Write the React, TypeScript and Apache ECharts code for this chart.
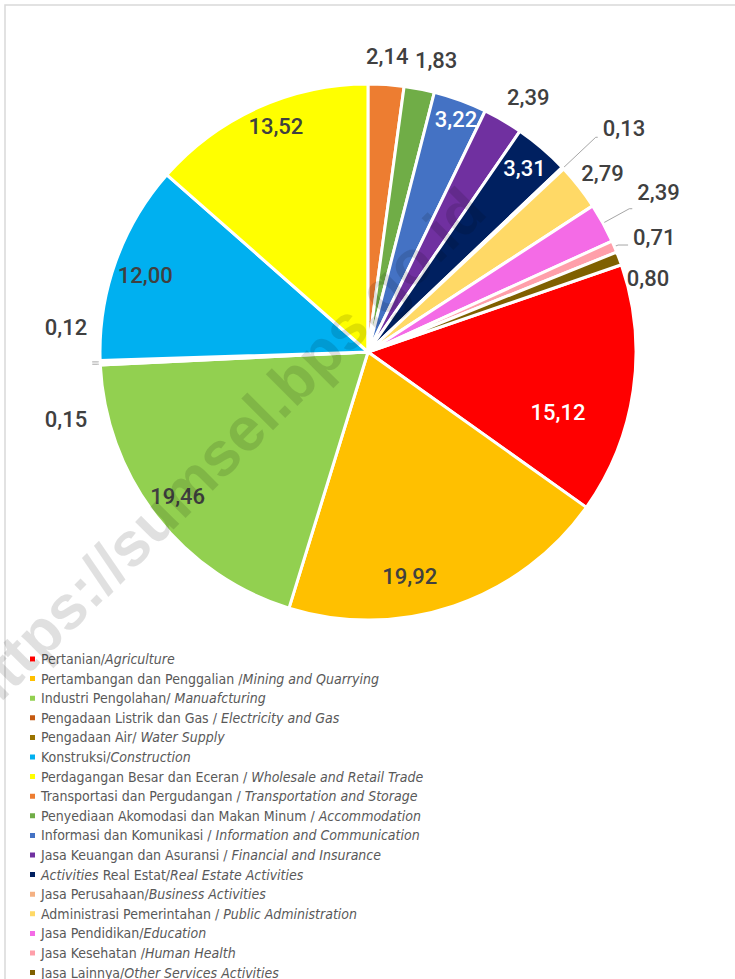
import React, { useEffect, useRef } from "react";
import * as echarts from "echarts";

// ---------- DATA ----------
const sectorNames = [
  "Pertanian",
  "Pertambangan dan Penggalian",
  "Industri Pengolahan",
  "Pengadaan Listrik dan Gas",
  "Pengadaan Air",
  "Konstruksi",
  "Perdagangan Besar dan Eceran",
  "Transportasi dan Pergudangan",
  "Penyediaan Akomodasi dan Makan Minum",
  "Informasi dan Komunikasi",
  "Jasa Keuangan dan Asuransi",
  "Real Estat",
  "Jasa Perusahaan",
  "Administrasi Pemerintahan",
  "Jasa Pendidikan",
  "Jasa Kesehatan",
  "Jasa Lainnya",
];

const sectorValues = [
  15.12, 19.92, 19.46, 0.12, 0.15, 12.0, 13.52, 2.14, 1.83, 3.22, 2.39, 3.31,
  0.13, 2.79, 2.39, 0.71, 0.8,
];

// legend text: [text, italic]
const legendSegments: [string, boolean][][] = [
  [["Pertanian/", false], ["Agriculture", true]],
  [["Pertambangan dan Penggalian /", false], ["Mining and Quarrying", true]],
  [["Industri Pengolahan/ ", false], ["Manuafcturing", true]],
  [["Pengadaan Listrik dan Gas / ", false], ["Electricity and Gas", true]],
  [["Pengadaan Air/ ", false], ["Water Supply", true]],
  [["Konstruksi/", false], ["Construction", true]],
  [["Perdagangan Besar dan Eceran / ", false], ["Wholesale and Retail Trade", true]],
  [["Transportasi dan Pergudangan / ", false], ["Transportation and Storage", true]],
  [["Penyediaan Akomodasi dan Makan Minum / ", false], ["Accommodation", true]],
  [["Informasi dan Komunikasi / ", false], ["Information and Communication", true]],
  [["Jasa Keuangan dan Asuransi / ", false], ["Financial and Insurance", true]],
  [["Activities", true], [" Real Estat/", false], ["Real Estate Activities", true]],
  [["Jasa Perusahaan/", false], ["Business Activities", true]],
  [["Administrasi Pemerintahan / ", false], ["Public Administration", true]],
  [["Jasa Pendidikan/", false], ["Education", true]],
  [["Jasa Kesehatan /", false], ["Human Health", true]],
  [["Jasa Lainnya/", false], ["Other Services Activities", true]],
];

const watermarkText = "https://sumsel.bps.go.id";

// ---------- STYLE ----------
const sliceColors = [
  "#FF0000", "#FFC000", "#92D050", "#C55A11", "#997300", "#00B0F0", "#FFFF00",
  "#ED7D31", "#70AD47", "#4472C4", "#7030A0", "#002060", "#F4B183", "#FFD966",
  "#F46BE6", "#FF9FAA", "#7F6000",
];

const LABEL_FONT = "Roboto, 'DejaVu Sans Condensed', sans-serif";
const LEGEND_FONT = "'DejaVu Sans Condensed', Roboto, sans-serif";
const LABEL_SIZE = 22;
const LABEL_DARK = "#404040";
const CENTER = [368, 352];
const RADIUS = 268;
const START = 19;

// outside label tuning (length, length2, show line, vertical shift)
const outsideCfg: Record<number, { len: number; len2: number; line: boolean; dy: number }> = {
  3: { len: 3, len2: 5, line: true, dy: -37 },
  4: { len: 3, len2: 5, line: true, dy: 58 },
  7: { len: 28, len2: -27, line: false, dy: 0 },
  8: { len: 29, len2: -15, line: false, dy: 0 },
  10: { len: 26, len2: -14, line: false, dy: 0 },
  12: { len: 45, len2: 2, line: true, dy: -9 },
  13: { len: 22, len2: -20, line: false, dy: 0 },
  14: { len: 30, len2: 3, line: true, dy: -16 },
  15: { len: 4, len2: 10, line: true, dy: -8 },
  16: { len: 6, len2: -3, line: false, dy: 22 },
};

// inside labels drawn on thin transparent rings at given radii
const insideRings = [
  { mid: 196, items: [0] },
  { mid: 224, items: [1] },
  { mid: 238, items: [2, 5, 6, 11] },
  { mid: 247, items: [9] },
];
// fine "best fit" shifts of inside labels
const insideShift: Record<number, [number, number]> = {
  0: [-7, 32],
  1: [-31, 9],
  2: [0, -3],
  5: [4, 5],
  6: [7, -6],
  9: [2, 2],
};
const whiteLabelItems = [0, 9, 11];

const fmt = (v: number) => v.toFixed(2).replace(".", ",");

const legendName = (i: number) => legendSegments[i].map((s) => s[0]).join("");

export default function App() {
  const ref = useRef<HTMLDivElement>(null);

  useEffect(() => {
    if (!ref.current) return;
    const chart = echarts.init(ref.current, undefined, { renderer: "svg" });

    const names = sectorNames.map((_, i) => legendName(i));

    const mainSeries: any = {
      type: "pie",
      center: CENTER,
      radius: RADIUS,
      startAngle: START,
      clockwise: true,
      avoidLabelOverlap: false,
      emphasis: { disabled: true },
      itemStyle: { borderColor: "#ffffff", borderWidth: 3 },
      label: { show: false },
      labelLine: { show: false },
      labelLayout: (p: any) => {
        const cfg = outsideCfg[p.dataIndex];
        return { hideOverlap: false, dy: cfg ? cfg.dy : 0 };
      },
      z: 2,
      data: sectorValues.map((v, i) => {
        const cfg = outsideCfg[i];
        const item: any = {
          name: names[i],
          value: v,
          itemStyle: { color: sliceColors[i] },
        };
        if (cfg) {
          item.label = {
            show: true,
            position: "outside",
            formatter: fmt(v),
            color: LABEL_DARK,
            fontSize: LABEL_SIZE,
            fontWeight: 500,
            fontFamily: LABEL_FONT,
            distanceToLabelLine: 5,
          };
          item.labelLine = {
            show: cfg.line,
            length: cfg.len,
            length2: cfg.len2,
            smooth: false,
            lineStyle: { color: "#a6a6a6", width: 1 },
          };
        } else {
          item.label = { show: false };
          item.labelLine = { show: false };
        }
        return item;
      }),
    };

    const ringSeries = insideRings.map((ring) => ({
      type: "pie",
      center: CENTER,
      radius: [ring.mid - 4, ring.mid + 4],
      startAngle: START,
      clockwise: true,
      silent: true,
      avoidLabelOverlap: false,
      emphasis: { disabled: true },
      itemStyle: { color: "rgba(0,0,0,0)", borderWidth: 0 },
      labelLine: { show: false },
      labelLayout: (p: any) => {
        const s = insideShift[p.dataIndex];
        return { hideOverlap: false, dx: s ? s[0] : 0, dy: s ? s[1] : 0 };
      },
      z: 3,
      data: sectorValues.map((v, i) => ({
        name: names[i],
        value: v,
        itemStyle: { color: "rgba(0,0,0,0)" },
        label: {
          show: ring.items.includes(i),
          position: "inside",
          formatter: fmt(v),
          color: whiteLabelItems.includes(i) ? "#ffffff" : LABEL_DARK,
          fontSize: LABEL_SIZE,
          fontWeight: 500,
          fontFamily: LABEL_FONT,
        },
      })),
    }));

    const richBase = { fontSize: 14, fontFamily: LEGEND_FONT, color: "#595959", lineHeight: 16 };

    chart.setOption({
      animation: false,
      backgroundColor: "#ffffff",
      legend: {
        orient: "vertical",
        left: 28,
        top: 651,
        height: 420,
        padding: 0,
        itemWidth: 7,
        itemHeight: 7,
        itemGap: 3.6,
        icon: "rect",
        selectedMode: false,
        data: names.map((n, i) => ({ name: n, itemStyle: { color: sliceColors[i] } })),
        formatter: (name: string) => {
          const i = names.indexOf(name);
          return legendSegments[i].map((s) => `{${s[1] ? "i" : "n"}|${s[0]}}`).join("");
        },
        textStyle: {
          ...richBase,
          rich: {
            n: { ...richBase, fontStyle: "normal" },
            i: { ...richBase, fontStyle: "italic" },
          },
        },
      },
      graphic: [
        {
          type: "rect",
          z: 0,
          silent: true,
          shape: { x: 5, y: 5, width: 800, height: 1100 },
          style: { fill: "none", stroke: "#d9d9d9", lineWidth: 1.5 },
        },
        {
          type: "text",
          z: 100,
          silent: true,
          x: 222,
          y: 451,
          rotation: 0.785,
          style: {
            text: watermarkText,
            fontSize: 62,
            fontWeight: "bold",
            fontFamily: "'Liberation Sans', Arial, sans-serif",
            fill: "rgba(0,0,0,0.12)",
            align: "center",
            verticalAlign: "middle",
            textAlign: "center",
            textVerticalAlign: "middle",
          },
        },
      ],
      series: [mainSeries, ...ringSeries],
    });

    return () => chart.dispose();
  }, []);

  return (
    <div
      ref={ref}
      style={{ position: "absolute", left: 0, top: 0, width: 735, height: 979 }}
    />
  );
}
